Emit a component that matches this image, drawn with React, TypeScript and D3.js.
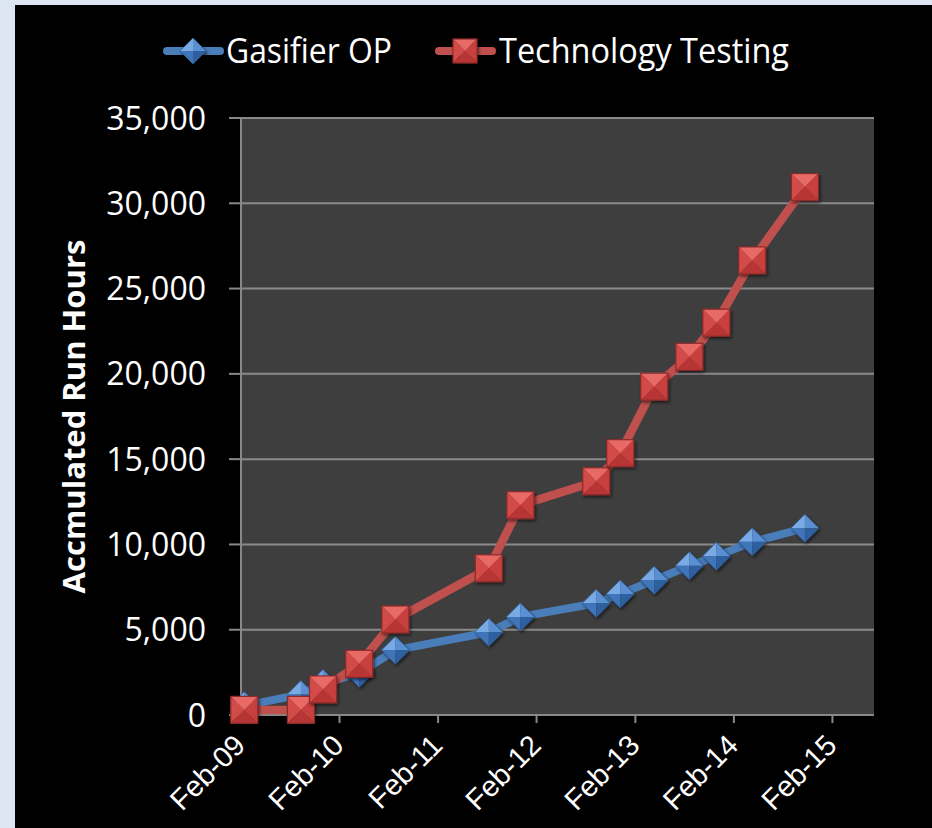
import React from "react";
import * as d3 from "d3";

// dates of each reading (both series share them)
const dates = [
  "2009-02-13", "2009-09-11", "2009-12-02", "2010-04-15", "2010-08-27",
  "2011-08-08", "2011-12-03", "2012-09-09", "2012-12-07", "2013-04-12",
  "2013-08-20", "2013-11-28", "2014-04-10", "2014-10-22",
];
const gasifierOP = [550, 1200, 1850, 2450, 3800, 4850, 5750, 6550, 7100, 7900, 8750, 9300, 10150, 10950];
const techTesting = [300, 300, 1500, 3000, 5600, 8600, 12300, 13700, 15350, 19250, 21000, 23000, 26650, 30950];
const xTicks = ["2009-02-01", "2010-02-01", "2011-02-01", "2012-02-01", "2013-02-01", "2014-02-01", "2015-02-01"];
const yTicks = [0, 5000, 10000, 15000, 20000, 25000, 30000, 35000];

const W = 932;
const H = 828;
const plot = { left: 241, right: 874, top: 118, bottom: 715 };
const font = "'Open Sans', 'Noto Sans', sans-serif";

const parse = d3.timeParse("%Y-%m-%d");

function Diamond({ x, y, s = 14 }: { x: number; y: number; s?: number }) {
  const t = `translate(${x},${y})`;
  return (
    <g transform={t} filter="url(#shadow)">
      <path d={`M0,${-s}L${-s},0L0,0Z`} fill="#7aaae4" />
      <path d={`M0,${-s}L${s},0L0,0Z`} fill="#5a8fd2" />
      <path d={`M${-s},0L0,${s}L0,0Z`} fill="#3f74ba" />
      <path d={`M${s},0L0,${s}L0,0Z`} fill="#2f5f9f" />
      <path d={`M0,${-s}L${s},0L0,${s}L${-s},0Z`} fill="none" stroke="#2c5a92" strokeWidth={0.8} />
    </g>
  );
}

function Square({ x, y, s = 13.5 }: { x: number; y: number; s?: number }) {
  const t = `translate(${x},${y})`;
  return (
    <g transform={t} filter="url(#shadow)">
      <path d={`M${-s},${-s}L${s},${-s}L0,0Z`} fill="#e86a66" />
      <path d={`M${-s},${-s}L${-s},${s}L0,0Z`} fill="#d34c48" />
      <path d={`M${s},${-s}L${s},${s}L0,0Z`} fill="#c8403d" />
      <path d={`M${-s},${s}L${s},${s}L0,0Z`} fill="#b83634" />
      <rect x={-s} y={-s} width={2 * s} height={2 * s} fill="none" stroke="#8c2b2a" strokeWidth={1.2} />
    </g>
  );
}

export default function App() {
  const x = d3.scaleTime()
    .domain([parse("2009-02-01")!, parse("2015-07-05")!])
    .range([plot.left, plot.right]);
  const y = d3.scaleLinear().domain([0, 35000]).range([plot.bottom, plot.top]);

  const pts = (vals: number[]) => dates.map((d, i) => [x(parse(d)!), y(vals[i])] as [number, number]);
  const blue = pts(gasifierOP);
  const red = pts(techTesting);
  const line = d3.line();

  return (
    <div style={{ position: "fixed", left: 0, top: 0 }}>
      <svg width={W} height={H} style={{ display: "block" }}>
        <defs>
          <filter id="shadow" x="-50%" y="-50%" width="200%" height="200%">
            <feDropShadow dx={1.5} dy={2} stdDeviation={1.5} floodColor="#000" floodOpacity={0.55} />
          </filter>
        </defs>
        <rect x={0} y={0} width={W} height={H} fill="#dce6f2" />
        <rect x={15} y={5} width={W - 15} height={H - 5} fill="#000" />

        {/* plot area */}
        <rect x={plot.left} y={plot.top} width={plot.right - plot.left} height={plot.bottom - plot.top} fill="#3e3e3e" />

        {/* gridlines and y ticks */}
        {yTicks.map((t) => (
          <g key={t}>
            {t > 0 && (
              <line x1={plot.left} x2={plot.right} y1={y(t)} y2={y(t)} stroke="#8a8a8a" strokeWidth={2} />
            )}
            <line x1={229} x2={plot.left} y1={y(t)} y2={y(t)} stroke="#888" strokeWidth={2} />
            <text x={206} y={y(t)} dy="0.36em" textAnchor="end" fill="#fff" fontFamily={font} fontSize={32}>
              {d3.format(",")(t)}
            </text>
          </g>
        ))}

        {/* axes */}
        <line x1={plot.left} x2={plot.left} y1={plot.top} y2={plot.bottom} stroke="#888" strokeWidth={2} />
        <line x1={plot.left} x2={plot.right} y1={plot.bottom} y2={plot.bottom} stroke="#888" strokeWidth={2} />
        {xTicks.map((t) => {
          const px = x(parse(t)!);
          return (
            <g key={t}>
              <line x1={px} x2={px} y1={plot.bottom} y2={plot.bottom + 8} stroke="#888" strokeWidth={2} />
              <text
                transform={`translate(${px + 6},${plot.bottom + 32}) rotate(-45)`}
                textAnchor="end"
                fill="#fff"
                fontFamily="'Liberation Sans', Arial, sans-serif"
                fontSize={29}
              >
                {d3.timeFormat("%b-%y")(parse(t)!)}
              </text>
            </g>
          );
        })}

        {/* axis title */}
        <text
          transform={`translate(85,${(plot.top + plot.bottom) / 2}) rotate(-90)`}
          textAnchor="middle"
          fill="#fff"
          fontFamily={font}
          fontWeight="bold"
          fontSize={31}
        >
          Accmulated Run Hours
        </text>

        {/* series */}
        <path d={line(blue)!} fill="none" stroke="#4a7ebb" strokeWidth={8} strokeLinejoin="round" />
        {blue.map(([px, py], i) => <Diamond key={i} x={px} y={py} />)}
        <path d={line(red)!} fill="none" stroke="#c0504d" strokeWidth={8.5} strokeLinejoin="round" />
        {red.map(([px, py], i) => <Square key={i} x={px} y={py} />)}

        {/* legend */}
        <line x1={167} x2={220} y1={51} y2={51} stroke="#4a7ebb" strokeWidth={8} strokeLinecap="round" />
        <Diamond x={193} y={51} s={13} />
        <text x={226} y={63} fill="#fff" fontFamily={font} fontSize={34} textLength={166} lengthAdjust="spacingAndGlyphs">
          Gasifier OP
        </text>
        <line x1={439} x2={492} y1={51} y2={51} stroke="#c0504d" strokeWidth={8} strokeLinecap="round" />
        <Square x={465} y={51} s={12} />
        <text x={499} y={63} fill="#fff" fontFamily={font} fontSize={34} textLength={290} lengthAdjust="spacingAndGlyphs">
          Technology Testing
        </text>
      </svg>
    </div>
  );
}
